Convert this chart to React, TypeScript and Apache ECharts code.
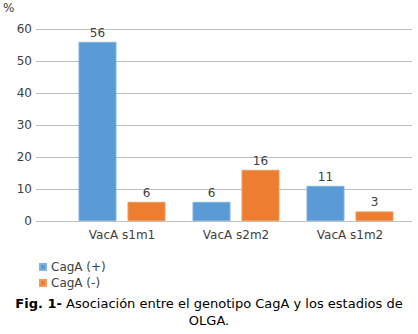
import React, { useEffect, useRef } from "react";
import * as echarts from "echarts";

const categories = ["VacA s1m1", "VacA s2m2", "VacA s1m2"];
const cagaPos = [56, 6, 11];
const cagaNeg = [6, 16, 3];
const seriesNames = ["CagA (+)", "CagA (-)"];
const yTicks = { min: 0, max: 60, interval: 10 };

const FONT = "DejaVu Sans";

export default function App() {
  const ref = useRef<HTMLDivElement>(null);
  useEffect(() => {
    if (!ref.current) return;
    const chart = echarts.init(ref.current, undefined, { renderer: "svg" });
    const labelStyle = { show: true, position: "top", color: "#404040", fontFamily: FONT, fontSize: 12, distance: 3 };
    chart.setOption({
      animation: false,
      backgroundColor: "#ffffff",
      grid: [
        { left: 36, right: 6, top: 29, bottom: 113 },
        { left: 65, right: 11, top: 29, bottom: 113 },
      ],
      xAxis: [
        { gridIndex: 0, type: "value", show: false, min: 0, max: 1 },
        {
          gridIndex: 1,
          type: "category",
          data: categories,
          axisLine: { show: false },
          axisTick: { show: false },
          axisLabel: { color: "#404040", fontFamily: FONT, fontSize: 12, margin: 8 },
        },
      ],
      yAxis: [
        {
          gridIndex: 0,
          type: "value",
          min: yTicks.min,
          max: yTicks.max,
          interval: yTicks.interval,
          axisLine: { show: false },
          axisTick: { show: false },
          axisLabel: { color: "#404040", fontFamily: FONT, fontSize: 12, margin: 4 },
          splitLine: { lineStyle: { color: "#bfbfbf", width: 1 } },
        },
        {
          gridIndex: 1,
          type: "value",
          min: yTicks.min,
          max: yTicks.max,
          interval: yTicks.interval,
          show: false,
          splitLine: { show: false },
        },
      ],
      legend: {
        orient: "vertical",
        left: 34,
        top: 256,
        itemWidth: 6,
        itemHeight: 6,
        itemGap: 4,
        icon: "rect",
        textStyle: { color: "#404040", fontFamily: FONT, fontSize: 12 },
        data: seriesNames,
      },
      series: [
        {
          name: seriesNames[0],
          type: "bar",
          xAxisIndex: 1,
          yAxisIndex: 1,
          data: cagaPos,
          barWidth: 38,
          barGap: "29%",
          itemStyle: { color: "#5B9BD5", borderColor: "#7fb2e0", borderWidth: 1 },
          label: labelStyle,
        },
        {
          name: seriesNames[1],
          type: "bar",
          xAxisIndex: 1,
          yAxisIndex: 1,
          data: cagaNeg,
          barWidth: 38,
          barGap: "29%",
          itemStyle: { color: "#ED7D31", borderColor: "#f19a5e", borderWidth: 1 },
          label: labelStyle,
        },
      ],
      graphic: [
        {
          type: "text",
          left: 3,
          top: 2,
          style: { text: "%", fill: "#404040", font: `12px ${FONT}` },
        },
        {
          type: "text",
          x: 209,
          y: 295,
          style: {
            text: "{b|Fig. 1-} Asociación entre el genotipo CagA y los estadios de\nOLGA.",
            align: "center",
            fill: "#000",
            font: `13px ${FONT}`,
            lineHeight: 17,
            rich: {
              b: { fontWeight: "bold", fontFamily: FONT, fontSize: 13, fill: "#000" },
            },
          },
        },
      ],
    });
    return () => chart.dispose();
  }, []);
  return <div ref={ref} style={{ position: "fixed", left: 0, top: 0, width: 418, height: 334 }} />;
}
